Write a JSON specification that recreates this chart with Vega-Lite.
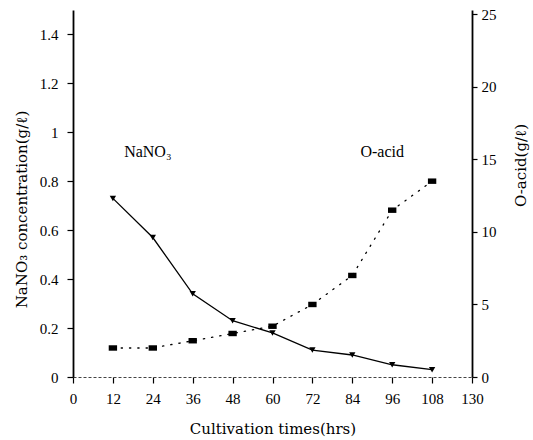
{
  "$schema": "https://vega.github.io/schema/vega-lite/v6.json",
  "width": 399,
  "height": 367,
  "autosize": {"type": "none"},
  "padding": {"left": 73, "top": 10, "right": 61, "bottom": 63},
  "background": "white",
  "config": {
    "view": {"stroke": null},
    "font": "Liberation Serif",
    "axis": {
      "labelFont": "Liberation Serif",
      "titleFont": "DejaVu Serif",
      "labelColor": "black",
      "titleColor": "black",
      "domainColor": "black",
      "tickColor": "black",
      "grid": false,
      "labelFontSize": 15,
      "titleFontSize": 15,
      "titleFontWeight": "normal",
      "tickSize": 6,
      "tickWidth": 1.2,
      "domainWidth": 1.8
    }
  },
  "datasets": {
    "main": [
      {"time": 12, "nano": 0.73, "oacid": 2.0},
      {"time": 24, "nano": 0.57, "oacid": 2.0},
      {"time": 36, "nano": 0.34, "oacid": 2.5},
      {"time": 48, "nano": 0.23, "oacid": 3.0},
      {"time": 60, "nano": 0.18, "oacid": 3.5},
      {"time": 72, "nano": 0.11, "oacid": 5.0},
      {"time": 84, "nano": 0.09, "oacid": 7.0},
      {"time": 96, "nano": 0.05, "oacid": 11.5},
      {"time": 108, "nano": 0.03, "oacid": 13.5}
    ],
    "labels": [
      {"label": "NaNO₃", "time": 22.5, "y": 0.92},
      {"label": "O-acid", "time": 93, "y": 0.92}
    ]
  },
  "encoding": {
    "x": {
      "field": "time",
      "type": "quantitative",
      "scale": {"domain": [0, 120], "nice": false},
      "axis": {
        "values": [0, 12, 24, 36, 48, 60, 72, 84, 96, 108, 120],
        "labelExpr": "datum.value == 120 ? '130' : datum.label",
        "title": "Cultivation times(hrs)",
        "titleFontSize": 15,
        "labelPadding": 8,
        "titlePadding": 15,
        "domainDash": [3, 2],
        "domainWidth": 1,
        "domainColor": "#444",
        "labelFlush": false
      }
    }
  },
  "layer": [
    {
      "layer": [
        {
          "data": {"name": "main"},
          "mark": {"type": "line", "color": "black", "strokeWidth": 1.3},
          "encoding": {
            "y": {
              "field": "nano",
              "type": "quantitative",
              "scale": {"domain": [0, 1.5], "nice": false},
              "axis": {
                "orient": "left",
                "values": [0, 0.2, 0.4, 0.6, 0.8, 1, 1.2, 1.4],
                "format": "~g",
                "title": "NaNO₃ concentration(g/ℓ)",
                "titleFontSize": 15,
                "titleY": 199,
                "labelPadding": 9,
                "titlePadding": 10
              }
            }
          }
        },
        {
          "data": {"name": "main"},
          "mark": {"type": "point", "shape": "triangle-down", "filled": true, "color": "black", "size": 40, "opacity": 1},
          "encoding": {"y": {"field": "nano", "type": "quantitative"}}
        },
        {
          "data": {"name": "labels"},
          "mark": {"type": "text", "font": "Liberation Serif", "fontSize": 16, "color": "black"},
          "encoding": {
            "y": {"field": "y", "type": "quantitative"},
            "text": {"field": "label"}
          }
        },
        {
          "data": {"values": [{"top": 1.5}]},
          "mark": {"type": "rule", "color": "black", "strokeWidth": 1.8},
          "encoding": {"y": {"field": "top", "type": "quantitative"}, "x": {"datum": 0}, "x2": {"datum": 120}}
        }
      ]
    },
    {
      "data": {"name": "main"},
      "layer": [
        {
          "mark": {"type": "line", "color": "black", "strokeWidth": 1.3, "strokeDash": [1.3, 7], "strokeCap": "round"},
          "encoding": {
            "y": {
              "field": "oacid",
              "type": "quantitative",
              "scale": {"domain": [0, 25.3], "nice": false},
              "axis": {
                "orient": "right",
                "values": [0, 5, 10, 15, 20, 25],
                "title": "O-acid(g/ℓ)",
                "titleAngle": 270,
                "titleX": 48,
                "titleY": 155,
                "titleBaseline": "middle",
                "titleAlign": "center",
                "titleFontSize": 15,
                "tickSize": 5,
                "labelPadding": 4
              }
            }
          }
        },
        {
          "mark": {"type": "point", "shape": "M-1,-0.65H1V0.65H-1Z", "filled": true, "color": "black", "size": 70, "opacity": 1},
          "encoding": {"y": {"field": "oacid", "type": "quantitative"}}
        }
      ]
    }
  ],
  "resolve": {"scale": {"y": "independent"}}
}
